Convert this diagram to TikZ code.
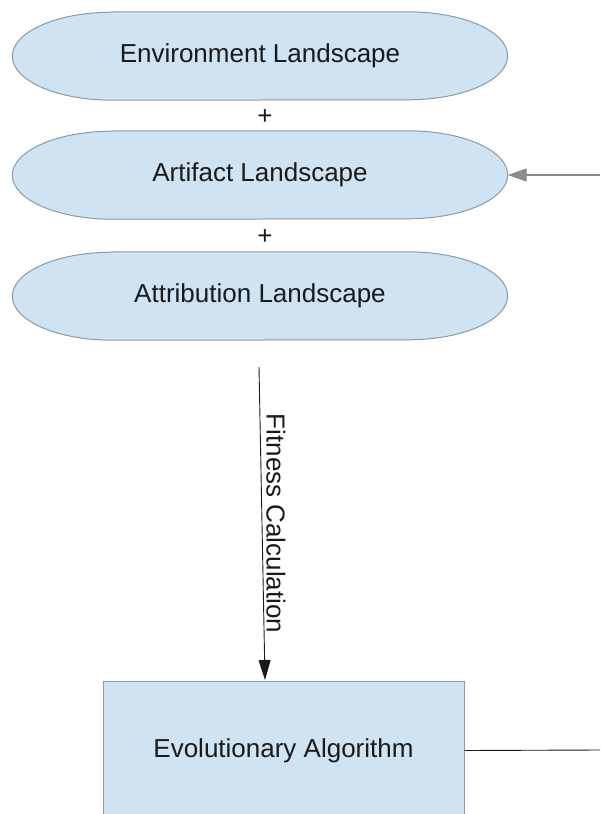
\documentclass[tikz,border=0pt]{standalone}
\usepackage{fontspec}
\setmainfont{Liberation Sans}
\usetikzlibrary{arrows.meta,calc}
\pgfdeclarelayer{background}
\pgfsetlayers{background,main}
\definecolor{paleblue}{HTML}{CFE3F2}
\definecolor{edgegray}{HTML}{8A9AA6}
\definecolor{inkdark}{HTML}{1A1A1A}
\definecolor{feedgray}{HTML}{8C8C8C}
% terminator outline round a node: flat top and bottom, half-elliptic ends
\newcommand\terminatorpath[1]{%
  \path[shapeline] ($(#1.north west)+(100,0)$) -- ($(#1.north east)+(-100,0)$)
    arc[start angle=90, end angle=-90, x radius=100pt, y radius=44pt]
    -- ($(#1.south west)+(100,0)$)
    arc[start angle=270, end angle=90, x radius=100pt, y radius=44pt] -- cycle;}
\begin{document}
\begin{tikzpicture}[x=1pt,y=-1pt,
  shapeline/.style={draw=edgegray, fill=paleblue, line width=1pt},
  landscape/.style={rectangle, minimum width=495pt, minimum height=88pt, inner sep=0pt,
    font=\fontsize{26}{30}\selectfont, text=inkdark},
  process/.style={rectangle, draw=edgegray, fill=paleblue, line width=1pt,
    minimum width=361pt, minimum height=138pt, inner sep=0pt,
    font=\fontsize{26}{30}\selectfont, text=inkdark},
  plus/.style={font=\fontsize{26}{30}\selectfont, text=inkdark, inner sep=0pt},
  flow/.style={draw=inkdark, line width=0.9pt},
]
\useasboundingbox (0,0) rectangle (600,814);

% landscapes
\node[landscape] (env) at (260,56) {Environment Landscape};
\node[plus] (p1) at (265,117) {+};
\node[landscape] (art) at (260,175) {Artifact Landscape};
\node[plus] (p2) at (265,237) {+};
\node[landscape] (attr) at (260,296) {Attribution Landscape};
\begin{pgfonlayer}{background}
  \fill[white] (0,0) rectangle (600,814);
  \terminatorpath{env}
  \terminatorpath{art}
  \terminatorpath{attr}
\end{pgfonlayer}

% evolutionary algorithm block
\node[process, anchor=north] (evo) at (283.5,681) {Evolutionary Algorithm};

% fitness calculation
\coordinate (fstart) at (259,367);
\coordinate (fend) at ($(evo.north)+(-18.5,-1)$);
\draw[flow, -{Triangle[length=20pt, width=12pt]}] (fstart) -- (fend)
  node[pos=0.5, rotate=-90, anchor=south, inner sep=4pt,
       font=\fontsize{26}{30}\selectfont, text=inkdark] (fit) {Fitness Calculation};

% feedback path
\coordinate (fbout) at (600,750);
\draw[flow] (evo.east) -- (fbout);
\coordinate (fbin) at (600,175);
\draw[draw=feedgray, line width=1.2pt, -{Triangle[length=19pt, width=13pt, fill=feedgray]}] (fbin) -- (art.east);
\end{tikzpicture}
\end{document}
